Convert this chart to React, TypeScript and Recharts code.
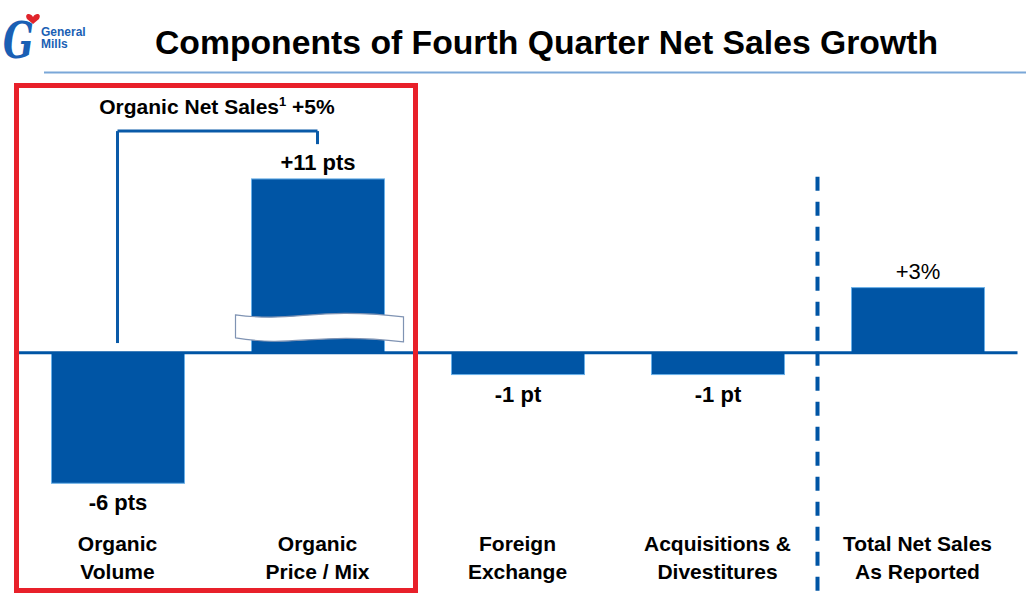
import React from "react";
import { BarChart, Bar, XAxis, YAxis, ReferenceLine, LabelList } from "recharts";

const categories = [
  "Organic Volume",
  "Organic Price / Mix",
  "Foreign Exchange",
  "Acquisitions & Divestitures",
  "Total Net Sales As Reported",
];
const categoryLines = [
  ["Organic", "Volume"],
  ["Organic", "Price / Mix"],
  ["Foreign", "Exchange"],
  ["Acquisitions &", "Divestitures"],
  ["Total Net Sales", "As Reported"],
];
const values = [-6, 11, -1, -1, 3];
const valueLabels = ["-6 pts", "+11 pts", "-1 pt", "-1 pt", "+3%"];

// the +11 bar is drawn with an axis break, capped at this height
const BREAK_CAP = 8;
// bracket over the organic pair (in pts on the value axis)
const BRACKET_TOP = 10.2;
const BRACKET_FOOT = 0.45;
const BRACKET_TAIL = 9.6;
// divider before the reported total
const DIVIDER_TOP = 8.1;
const DIVIDER_BOTTOM = -11;

const BLUE = "#0055a5";
const FONT = "'Liberation Sans', Arial, sans-serif";

const data = categories.map((name, i) => ({
  name,
  value: values[i],
  drawn: Math.min(values[i], BREAK_CAP),
  broken: values[i] > BREAK_CAP,
  label: valueLabels[i],
}));

function BarShape(props: any) {
  const { x, y, width, height, payload } = props;
  const top = Math.min(y, y + height);
  const h = Math.abs(height);
  const b = top + h;
  const L = x - 16;
  const R = x + width + 19;
  return (
    <g>
      <rect x={x} y={top} width={width} height={h} fill={BLUE} stroke="#6ab0e8" strokeWidth={1} />
      {payload.broken && (
        <path
          d={`M${L},${b - 38} C${L + 60},${b - 30} ${R - 90},${b - 46} ${R},${b - 36} L${R},${b - 11} C${R - 90},${b - 21} ${L + 60},${b - 5} ${L},${b - 15} Z`}
          fill="#fff"
          stroke="#7f93b3"
          strokeWidth={1.2}
        />
      )}
    </g>
  );
}

function ValueLabel(props: any) {
  const { x, y, width, height, index } = props;
  const top = Math.min(y, y + height);
  const bottom = Math.max(y, y + height);
  const v = values[index];
  const isPct = valueLabels[index].endsWith("%");
  return (
    <text
      x={x + width / 2}
      y={v >= 0 ? top - 9 : bottom + 27}
      textAnchor="middle"
      fontFamily={FONT}
      fontWeight={isPct ? 400 : 700}
      fontSize={22}
      fill="#000"
    >
      {valueLabels[index]}
    </text>
  );
}

function CategoryTick(props: any) {
  const { x, y, index } = props;
  const lines = categoryLines[index] ?? [];
  return (
    <g>
      {lines.map((l, k) => (
        <text
          key={k}
          x={x}
          y={y + 38 + k * 28}
          textAnchor="middle"
          fontFamily={FONT}
          fontWeight={700}
          fontSize={21}
          fill="#000"
        >
          {l}
        </text>
      ))}
    </g>
  );
}

function Overlay() {
  return (
    <svg width={1026} height={596} style={{ position: "absolute", left: 0, top: 0, pointerEvents: "none" }}>
      {/* logo */}
      <text
        transform="translate(3,58) scale(0.72,1)"
        fontFamily="'DejaVu Serif', serif"
        fontStyle="italic"
        fontWeight={700}
        fontSize={50}
        fill="#1a5fb4"
      >
        G
      </text>
      <path d="M33,17 C30,12 24,14 27,19 L33,24 L39,19 C42,14 36,12 33,17 Z" fill="#e0242b" />
      <text x={41} y={36} fontFamily={FONT} fontWeight={700} fontSize={12} fill="#1a5fb4">
        General
      </text>
      <text x={41} y={48} fontFamily={FONT} fontWeight={700} fontSize={12} fill="#1a5fb4">
        Mills
      </text>
      {/* title */}
      <text
        x={155}
        y={54}
        fontFamily={FONT}
        fontWeight={700}
        fontSize={33}
        textLength={783}
        lengthAdjust="spacingAndGlyphs"
        fill="#000"
      >
        Components of Fourth Quarter Net Sales Growth
      </text>
      <line x1={44} y1={72.5} x2={1026} y2={72.5} stroke="#7aa7d8" strokeWidth={2} />
      {/* organic highlight box */}
      <rect x={16.5} y={85.5} width={399} height={505} fill="none" stroke="#e8202a" strokeWidth={5} />
      <text x={217} y={114} textAnchor="middle" fontFamily={FONT} fontWeight={700} fontSize={21} fill="#000">
        Organic Net Sales
        <tspan fontSize={13} dy={-8}>1</tspan>
        <tspan dy={8}> +5%</tspan>
      </text>
    </svg>
  );
}

export default function App() {
  return (
    <div style={{ position: "absolute", left: 0, top: 0, width: 1026, height: 596, background: "#fff" }}>
      <BarChart width={1026} height={596} data={data} margin={{ top: 5, right: 8.5, left: 17.5, bottom: 31 }}>
        <XAxis
          dataKey="name"
          axisLine={false}
          tickLine={false}
          height={60}
          interval={0}
          tick={<CategoryTick />}
        />
        <YAxis hide domain={[-7, 16]} />
        <Bar dataKey="drawn" barSize={133} shape={<BarShape />} isAnimationActive={false}>
          <LabelList dataKey="label" content={<ValueLabel />} />
        </Bar>
        <ReferenceLine y={0} stroke={BLUE} strokeWidth={3} />
        <ReferenceLine
          segment={[
            { x: categories[0], y: BRACKET_FOOT },
            { x: categories[0], y: BRACKET_TOP },
          ]}
          stroke="#0a5aa8"
          strokeWidth={3}
        />
        <ReferenceLine
          segment={[
            { x: categories[0], y: BRACKET_TOP },
            { x: categories[1], y: BRACKET_TOP },
          ]}
          stroke="#0a5aa8"
          strokeWidth={3}
        />
        <ReferenceLine
          segment={[
            { x: categories[1], y: BRACKET_TOP },
            { x: categories[1], y: BRACKET_TAIL },
          ]}
          stroke="#0a5aa8"
          strokeWidth={3}
        />
        <ReferenceLine
          segment={[
            { x: categories[4], y: DIVIDER_TOP },
            { x: categories[4], y: DIVIDER_BOTTOM },
          ]}
          position="start"
          ifOverflow="visible"
          stroke={BLUE}
          strokeWidth={4}
          strokeDasharray="14 11"
        />
      </BarChart>
      <Overlay />
    </div>
  );
}
